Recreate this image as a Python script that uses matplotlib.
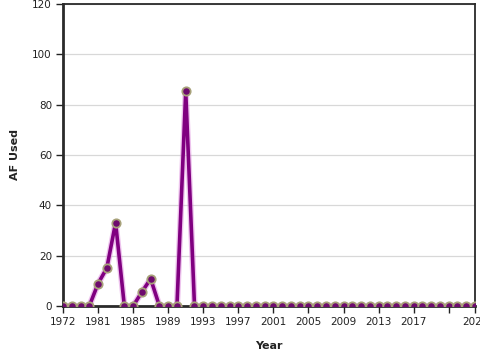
import matplotlib
matplotlib.use("Agg")
import matplotlib.pyplot as plt

# years on the category axis (first few are unevenly spaced in the source)
years = [1972, 1975, 1978, 1980] + list(range(1981, 2025))
af_used = [0, 0, 0, 0, 8.9, 15.1, 33.1, 0, 0, 5.6, 10.8, 0, 0, 0, 85.4] + [0] * 33
tick_idx = list(range(0, 45, 4)) + [47]
tick_lbl = [str(years[i]) for i in tick_idx]
tick_lbl[-2] = ""  # 2021 label hidden in the original

fig = plt.figure(figsize=(4.8, 3.6), dpi=100)
ax = fig.add_axes([63/480, 54/360, 412/480, 302/360])

x = list(range(len(years)))
ax.plot(x, af_used, color="#dd88dd", lw=4.5, alpha=0.5, zorder=2)
ax.plot(x, af_used, color="#800080", lw=2.6, zorder=3,
        marker="o", ms=6, mfc="#6e0a6e", mec="#a8a27a", mew=1.3)

ax.set_xlim(0, len(years) - 1)
ax.set_ylim(0, 120)
ax.set_yticks(range(0, 121, 20))
ax.set_xticks(tick_idx)
ax.set_xticklabels(tick_lbl)
ax.grid(axis="y", color="#d8d8d8", lw=0.9)
ax.set_axisbelow(True)
ax.tick_params(labelsize=7.5, colors="#222222", length=5, width=1, pad=3)
for s in ("left", "bottom"):
    ax.spines[s].set_linewidth(2)
    ax.spines[s].set_color("#2a2a2a")
for s in ("top", "right"):
    ax.spines[s].set_linewidth(1.3)
    ax.spines[s].set_color("#2a2a2a")

for lbl in ax.get_xticklabels():
    lbl.set_clip_on(False)

ax.set_xlabel("Year", fontsize=8, fontweight="bold", color="#222222", labelpad=10)
ax.set_ylabel("AF Used", fontsize=8, fontweight="bold", color="#222222", labelpad=9)

fig.savefig("out.png", dpi=100)
